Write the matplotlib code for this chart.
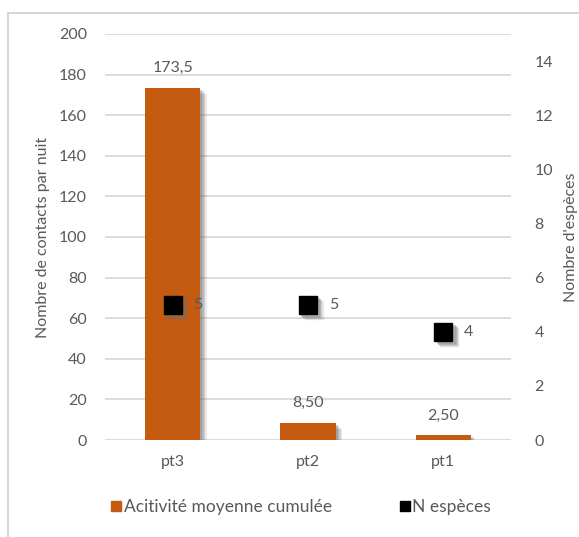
import matplotlib
matplotlib.use("Agg")
import matplotlib.pyplot as plt
from matplotlib import patheffects as pe
from matplotlib.patches import Rectangle
from matplotlib.lines import Line2D
from matplotlib.transforms import ScaledTranslation

categories = ["pt3", "pt2", "pt1"]
activite = [173.5, 8.5, 2.5]
activite_labels = ["173,5", "8,50", "2,50"]
n_especes = [5, 5, 4]
left_ticks = [0, 20, 40, 60, 80, 100, 120, 140, 160, 180, 200]
right_ticks = [0, 2, 4, 6, 8, 10, 12, 14]

plt.rcParams["font.family"] = ["Lato", "DejaVu Sans"]
TXT = "#595959"
ORANGE = "#C55A11"
GRID = "#D9D9D9"
FS = 11.5

fig = plt.figure(figsize=(5.79, 5.37), dpi=100)
fig.patch.set_facecolor("white")

# chart frame (only left/top edges visible)
fig.add_artist(Rectangle((8 / 579, -0.05), 1.2, 1 - 13 / 537 + 0.05,
                         transform=fig.transFigure, fill=False,
                         edgecolor="#D0D0D0", linewidth=1.2))

ax = fig.add_axes([105 / 579, 1 - 440 / 537, 406 / 579, 406 / 537])
x = list(range(len(categories)))

# soft drop shadow built from a few translucent layers
bar_shadow = [pe.SimplePatchShadow(offset=(o, -o), shadow_rgbFace="#707070", alpha=a)
              for o, a in ((4.5, 0.15), (3.5, 0.2), (2.5, 0.25), (1.5, 0.3))] + [pe.Normal()]
ax.bar(x, activite, width=0.41, color=ORANGE, zorder=3,
       label="Acitivité moyenne cumulée", path_effects=bar_shadow)
ax.set_ylim(0, 200)
ax.set_xlim(-0.5, 2.5)
ax.set_yticks(left_ticks)
ax.set_xticks(x)
ax.set_xticklabels(categories)
ax.yaxis.grid(True, color=GRID, linewidth=1.3, zorder=0)
ax.set_axisbelow(True)
for s in ax.spines.values():
    s.set_visible(False)
ax.tick_params(axis="both", length=0, colors=TXT, labelsize=FS)
ax.tick_params(axis="y", pad=13)
ax.tick_params(axis="x", pad=11)
ax.set_ylabel("Nombre de contacts par nuit", color=TXT, fontsize=FS, labelpad=6)

for xi, v, lab in zip(x, activite, activite_labels):
    ax.annotate(lab, (xi, v), xytext=(0, 9), textcoords="offset points",
                ha="center", va="bottom", color=TXT, fontsize=FS)

ax2 = ax.twinx()
ax2.set_ylim(0, 15)
ax2.set_yticks(right_ticks)
for s in ax2.spines.values():
    s.set_visible(False)
ax2.tick_params(axis="y", length=0, colors=TXT, labelsize=FS, pad=17)
ax2.set_ylabel("Nombre d'espèces", color=TXT, fontsize=FS, labelpad=8)

# marker shadows, then markers
for o, a in ((4.0, 0.12), (3.2, 0.16), (2.4, 0.2), (1.6, 0.22)):
    off = ax2.transData + ScaledTranslation(o / 72, -o / 72, fig.dpi_scale_trans)
    ax2.plot(x, n_especes, linestyle="none", marker="s", markersize=13,
             color="#707070", alpha=a, transform=off, zorder=3.5)
ax2.plot(x, n_especes, linestyle="none", marker="s", markersize=13,
         color="black", label="N espèces", zorder=4)
for xi, v in zip(x, n_especes):
    ax2.annotate(str(v), (xi, v), xytext=(15, 0), textcoords="offset points",
                 ha="left", va="center", color=TXT, fontsize=FS)

handles = [Line2D([], [], linestyle="none", marker="s", markersize=6.5, color=ORANGE),
           Line2D([], [], linestyle="none", marker="s", markersize=6.5, color="black")]
fig.legend(handles, ["Acitivité moyenne cumulée", "N espèces"], loc="center",
           bbox_to_anchor=(300 / 579, 1 - 507 / 537), ncol=2, frameon=False,
           fontsize=12.5, labelcolor=TXT, handletextpad=0.05,
           columnspacing=3.8, handlelength=0.8)

fig.savefig("out.png", dpi=100, facecolor="white")
